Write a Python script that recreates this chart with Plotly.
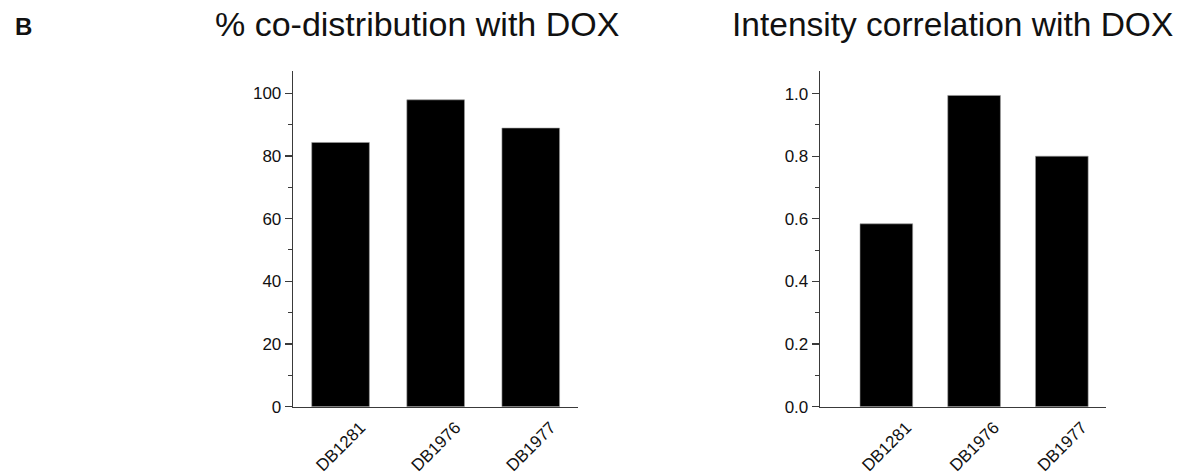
import plotly.graph_objects as go

categories = ["DB1281", "DB1976", "DB1977"]
codistribution = [84.3, 97.9, 88.9]
intensity_corr = [0.584, 0.994, 0.800]
title_left = "% co-distribution with DOX"
title_right = "Intensity correlation with DOX"
panel_label = "B"

FONT = "Liberation Sans, Arial, sans-serif"
AXIS_COLOR = "#3a3a3a"

fig = go.Figure()
fig.add_trace(go.Bar(x=categories, y=codistribution, width=0.606,
                     marker=dict(color="black", line=dict(color="#9a9a9a", width=0.6)),
                     xaxis="x", yaxis="y", showlegend=False))
fig.add_trace(go.Bar(x=categories, y=intensity_corr, width=0.6,
                     marker=dict(color="black", line=dict(color="#9a9a9a", width=0.6)),
                     xaxis="x2", yaxis="y2", showlegend=False))

W, H = 1182, 476
ydom = [(H - 406.7) / H, (H - 71) / H]

xcommon = dict(showline=True, linecolor=AXIS_COLOR, linewidth=1.3, ticks="",
               tickangle=-45, tickfont=dict(family=FONT, size=17, color="#111"),
               showgrid=False, zeroline=False, fixedrange=True, automargin=False,
               ticklabelstandoff=3, ticklabelshift=20)
ycommon = dict(showline=True, linecolor=AXIS_COLOR, linewidth=1.3, ticks="outside",
               ticklen=7, tickwidth=1.2, tickcolor=AXIS_COLOR, automargin=False,
               tickfont=dict(family=FONT, size=17, color="#111"),
               showgrid=False, zeroline=False, domain=ydom, fixedrange=True)

fig.update_layout(
    width=W, height=H,
    margin=dict(l=0, r=0, t=0, b=0, autoexpand=False),
    paper_bgcolor="white", plot_bgcolor="white",
    bargap=0.4,
    xaxis=dict(domain=[293 / W, 578.3 / W], range=[-0.5, 2.5], anchor="y", **xcommon),
    yaxis=dict(range=[0, 107.1], tickvals=[0, 20, 40, 60, 80, 100], anchor="x",
               minor=dict(dtick=10, tick0=0, ticks="outside", ticklen=4, tickcolor=AXIS_COLOR, tickwidth=1),
               **ycommon),
    xaxis2=dict(domain=[820 / W, 1105.7 / W], range=[-0.756, 2.5], anchor="y2", **xcommon),
    yaxis2=dict(range=[0, 1.072], tickvals=[0, 0.2, 0.4, 0.6, 0.8, 1.0], tickformat=".1f", anchor="x2",
                minor=dict(dtick=0.1, tick0=0, ticks="outside", ticklen=4, tickcolor=AXIS_COLOR, tickwidth=1),
                **ycommon),
    annotations=[
        dict(text=title_left, x=416.5 / W, y=1 - 37.5 / H, xref="paper", yref="paper",
             xanchor="center", yanchor="bottom", yshift=-8, showarrow=False,
             font=dict(family=FONT, size=34, color="#111")),
        dict(text=title_right, x=952 / W, y=1 - 37.5 / H, xref="paper", yref="paper",
             xanchor="center", yanchor="bottom", yshift=-8, showarrow=False,
             font=dict(family=FONT, size=33.5, color="#111")),
        dict(text="<b>" + panel_label + "</b>", x=13 / W, y=1 - 37.5 / H, xref="paper", yref="paper",
             xanchor="left", yanchor="bottom", yshift=-5, showarrow=False,
             font=dict(family=FONT, size=24, color="#111")),
    ],
)

fig.write_html(
    "out.html",
    config={"displayModeBar": False, "staticPlot": True},
    post_script="document.body.style.margin='0';document.body.style.overflow='hidden';",
)
